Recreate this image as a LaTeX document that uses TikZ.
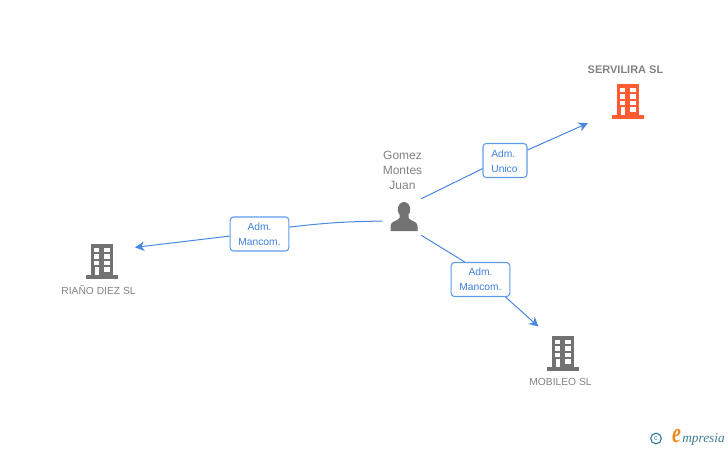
\documentclass[tikz,border=0pt]{standalone}
\usepackage{xcolor}
\usepackage{fontspec}
\setmainfont{Liberation Sans}
\newfontfamily\logofont{Liberation Serif}
\usetikzlibrary{arrows.meta}

\definecolor{linkblue}{HTML}{4A88E0}
\definecolor{boxblue}{HTML}{5F9CE8}
\definecolor{textblue}{HTML}{3F80DC}
\definecolor{iconcolor}{HTML}{727272}
\definecolor{namecolor}{HTML}{828282}
\definecolor{maincolor}{HTML}{FF5C33}
\definecolor{logoteal}{HTML}{3B7F96}
\definecolor{logoorange}{HTML}{EE8A22}

\tikzset{
    pics/building/.style={code={
        \fill[#1] (-11,-16) rectangle (11,16);
        \fill[#1] (-16,15.2) rectangle (16,18.5);
        \foreach \wy/\wh in {-12.5/-8.3, -6/-1.5, 0.5/5} {
            \fill[white] (-7.6,\wy) rectangle (-2.6,\wh);
            \fill[white] (2.4,\wy) rectangle (7.5,\wh);
        }
        \fill[white] (2.4,7) rectangle (7.5,11.5);
        \fill[white] (-7.2,7) rectangle (-2.9,15.2);
    }},
    pics/person/.style={code={
        \fill[iconcolor] (0,-7.5) ellipse [x radius=6.2, y radius=7.5];
        \fill[iconcolor] (-13.5,14) -- (-13.5,9) .. controls (-13.5,4) and (-7,4.5) .. (-4.5,1)
            -- (-4.5,-2) -- (4.5,-2) -- (4.5,1) .. controls (7,4.5) and (13.5,4) .. (13.5,9) -- (13.5,14) -- cycle;
    }}
}

\begin{document}
\begin{tikzpicture}[
        x=0.75pt, y=-0.75pt,
        iconnode/.style={circle, minimum size=52.5pt, inner sep=0pt},
        rolebox/.style={rectangle, draw=boxblue, line width=0.8pt, fill=white, rounded corners=2.5pt,
            align=center, text=textblue, minimum height=25.5pt, inner sep=0pt,
            font=\fontsize{7.7pt}{11.25pt}\selectfont,
            execute at begin node=\rule{0pt}{7pt}},
        company/.style={text=namecolor, inner sep=0pt, font=\fontsize{7.7pt}{9pt}\selectfont},
        link/.style={draw=linkblue, line width=0.75pt},
        arrow/.style={link, -{Stealth[length=7pt, width=7pt, inset=2pt]}}
    ]
        \useasboundingbox (0,0) rectangle (728,450);

        % Person
        \node[minimum width=28.5pt, minimum height=27pt, inner sep=0pt] (gomez) at (402,217) {};
        \pic at (404,217) {person};
        \node[text=namecolor, align=center, inner sep=0pt, font=\fontsize{9pt}{11.25pt}\selectfont] (gomezName) at (402.5,170) {Gomez\\Montes\\Juan};

        % Companies
        \node[iconnode, minimum size=69pt] (servilira) at (628,100) {};
        \pic at (628,100) {building=maincolor};
        \node[company, font=\fontsize{8.25pt}{9pt}\selectfont\bfseries] (serviliraName) at (625.5,70) {SERVILIRA SL};

        \node[iconnode] (riano) at (102,260) {};
        \pic at (102,260) {building=iconcolor};
        \node[company] (rianoName) at (98.5,290) {RIAÑO DIEZ SL};

        \node[iconnode] (mobileo) at (563,352) {};
        \pic at (563,352) {building=iconcolor};
        \node[company] (mobileoName) at (560.5,382) {MOBILEO SL};

        % Roles
        \node[rolebox, minimum width=33pt, align=left, text width=20.5pt] (roleUnico) at (505,160.5) {Adm.\\Unico};
        \node[rolebox, minimum width=44pt] (roleRiano) at (259.5,234) {Adm.\\Mancom.};
        \node[rolebox, minimum width=44pt] (roleMobileo) at (480.5,279.5) {Adm.\\Mancom.};

        % Links
        \draw[link] (gomez.north east) -- (roleUnico.200);
        \draw[arrow] (roleUnico.25) -- (servilira.210);
        \draw[link] (gomez.192) to[bend right=3] (roleRiano.13);
        \draw[arrow] (roleRiano.184) -- (riano.21);
        \draw[link] (gomez.south east) -- (roleMobileo.132);
        \draw[arrow] (roleMobileo.325) -- (mobileo.134);

        % Logo
        \node[circle, draw=logoteal, line width=0.9pt, text=logoteal, inner sep=0pt, minimum size=8pt, font=\fontsize{5.5pt}{6pt}\selectfont] (logoMark) at (656,438.5) {c};
        \node[text=logoorange, inner sep=0pt, yscale=1.4, transform shape, font=\logofont\itshape\bfseries\fontsize{15pt}{15pt}\selectfont] (logoE) at (676.5,436.5) {e};
        \node[text=logoteal, inner sep=0pt, anchor=west, font=\logofont\itshape\fontsize{10pt}{10pt}\selectfont] (logoName) at (682,439.5) {mpresia};
\end{tikzpicture}
\end{document}
